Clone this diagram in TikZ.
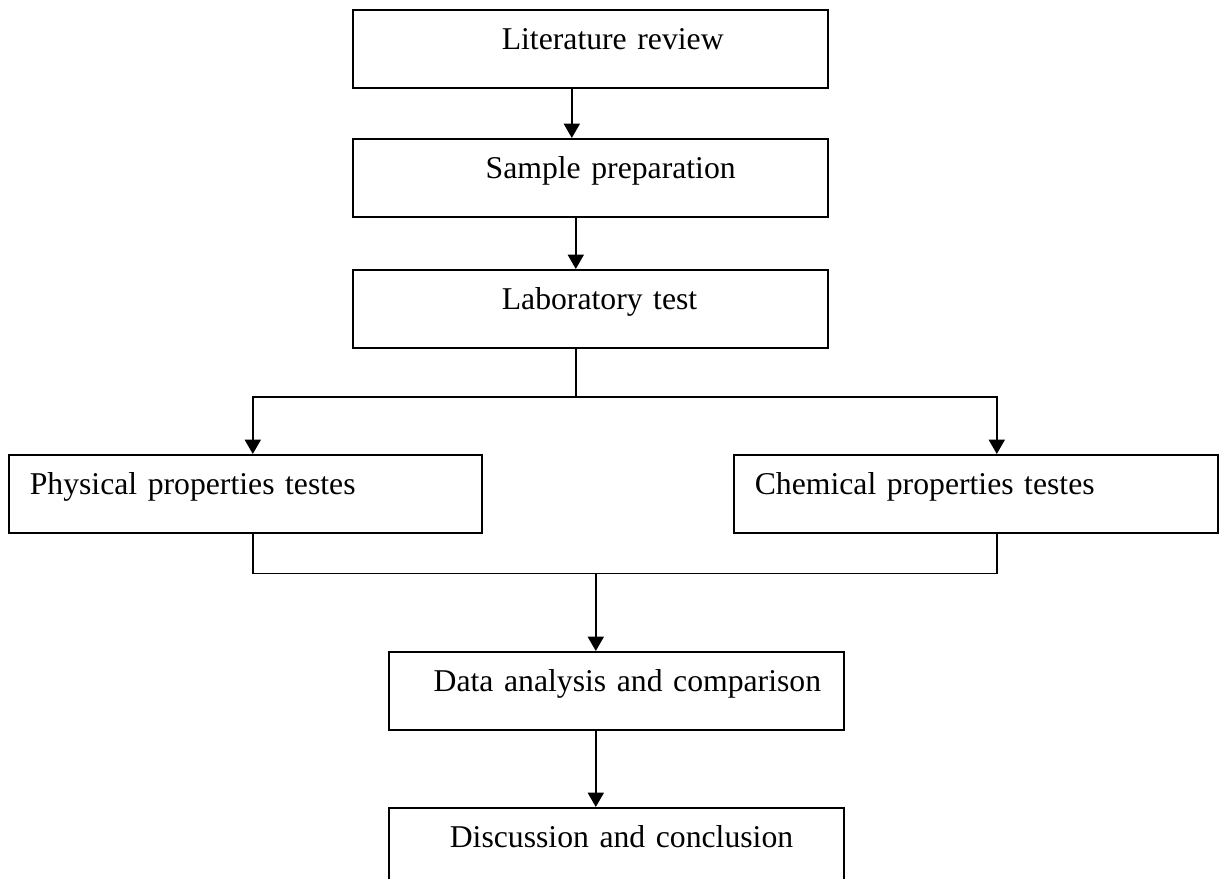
\documentclass[tikz,border=0pt]{standalone}
\usepackage{fontspec}
\setmainfont{Liberation Serif}
\usetikzlibrary{arrows.meta}

\tikzset{
  stepbox/.style={draw, line width=0.6pt, anchor=north west,
    inner xsep=0pt, inner ysep=0pt, align=left,
    text height=15.14pt, text depth=14.38pt,
    font=\fontsize{12}{14}\selectfont},
  link/.style={line width=0.55pt},
  flow/.style={line width=0.75pt, -{Triangle[length=5.4pt, width=6pt]}}
}

\begin{document}
\begin{tikzpicture}[x=0.3785pt, y=-0.3785pt]
    % Page size of the figure
    \useasboundingbox (0,0) rectangle (1219,879);
    \clip (0,0) rectangle (1219,879);

    % Draw the steps
    \node[stepbox, text width=179.79pt] (lit) at (352,9) {\hspace*{56.4pt}Literature review};
    \node[stepbox, text width=179.79pt] (sample) at (352,138) {\hspace*{50.3pt}Sample preparation};
    \node[stepbox, text width=179.79pt] (lab) at (352,269) {\hspace*{56.4pt}Laboratory test};
    \node[stepbox, text width=179.03pt] (phys) at (8,454) {\hspace*{7.95pt}Physical properties testes};
    \node[stepbox, text width=183.19pt] (chem) at (733,454) {\hspace*{7.95pt}Chemical properties testes};
    \node[stepbox, text width=172.22pt] (data) at (388,651) {\hspace*{17pt}Data analysis and comparison};
    \node[stepbox, text width=172.22pt] (disc) at (388,807) {\hspace*{23.1pt}Discussion and conclusion};

    % Arrows between the steps
    \draw[flow] ([xshift=-7pt]lit.south) -- ([xshift=-7pt]sample.north);
    \draw[flow] ([xshift=-5.49pt]sample.south) -- ([xshift=-5.49pt]lab.north);

    % Split into the two kinds of tests
    \draw[link] ([xshift=-5.49pt]lab.south) -- ++(0,48) coordinate (split);
    \draw[flow] (split) -| ([xshift=2.84pt]phys.north);
    \draw[flow] (split) -| ([xshift=7.95pt]chem.north);

    % Join the tests again
    \draw[link] ([xshift=2.84pt]phys.south) -- ++(0,40) coordinate (join) -| ([xshift=7.95pt]chem.south);
    \coordinate (datain) at ([xshift=-7.76pt]data.north);
    \draw[flow] (join -| datain) -- (datain);
    \draw[flow] ([xshift=-7.76pt]data.south) -- ([xshift=-7.76pt]disc.north);
\end{tikzpicture}
\end{document}
